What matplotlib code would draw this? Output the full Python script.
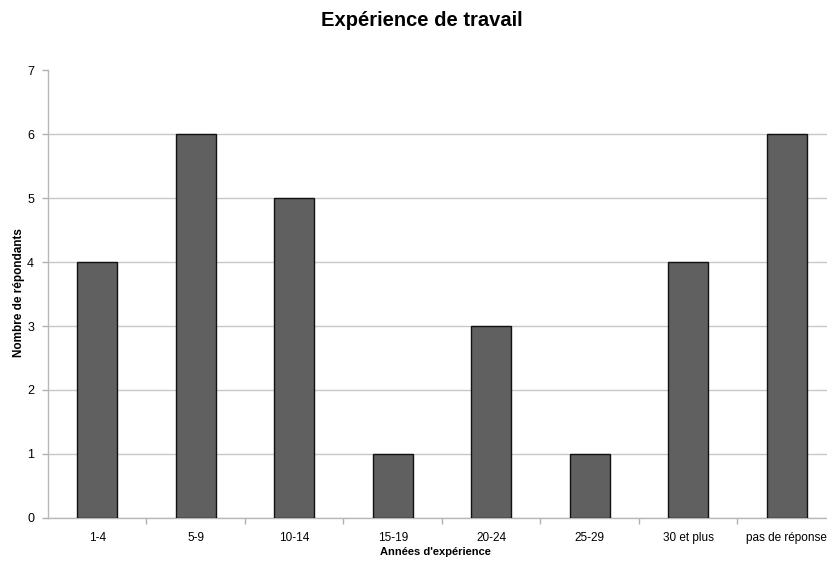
import matplotlib
matplotlib.use("Agg")
import matplotlib.pyplot as plt
import numpy as np

plt.rcParams['font.family'] = ['Liberation Sans', 'DejaVu Sans']

categories = ["1-4", "5-9", "10-14", "15-19", "20-24", "25-29", "30 et plus", "pas de réponse"]
respondents = [4, 6, 5, 1, 3, 1, 4, 6]

fig = plt.figure(figsize=(8.28, 5.63), dpi=100)
ax = fig.add_axes([48 / 828, 45 / 563, 788 / 828, 448 / 563])

x = np.arange(len(categories))
ax.bar(x, respondents, width=0.41, color="#606060", edgecolor="#111111",
       linewidth=1.0, zorder=3)

ax.set_xlim(-0.5, len(categories) - 0.5)
ax.set_ylim(0, 7)
ax.set_yticks(range(0, 8))
ax.set_xticks(x)
ax.set_xticklabels(categories, fontsize=8.5)
ax.set_xticks(np.arange(0.5, len(categories) - 0.5), minor=True)
ax.tick_params(axis="x", which="major", length=0, pad=10)
ax.tick_params(axis="x", which="minor", length=4, color="#b0b0b0", width=1)
ax.tick_params(axis="y", length=4, color="#b0b0b0", width=1, labelsize=9, pad=6)

ax.yaxis.grid(True, color="#c8c8c8", linewidth=1, zorder=0)
ax.set_axisbelow(True)
gl = ax.get_ygridlines()
gl[-1].set_visible(False)

for s in ["top", "right"]:
    ax.spines[s].set_visible(False)
for s in ["left", "bottom"]:
    ax.spines[s].set_color("#b8b8b8")
    ax.spines[s].set_linewidth(1)

ax.set_xlabel("Années d'expérience", fontsize=8, fontweight="bold")
ax.xaxis.set_label_coords((435 - 48) / 788, -34 / 448)
ax.xaxis.label.set_va("center")
ax.set_ylabel("Nombre de répondants", fontsize=8.5, fontweight="bold")
ax.yaxis.set_label_coords(-29 / 788, (518 - 293) / 448)
ax.yaxis.label.set_va("center")
fig.text(422 / 828, 1 - 20 / 563, "Expérience de travail", ha="center", va="center",
         fontsize=14.5, fontweight="bold")

fig.savefig("out.png", dpi=100)
